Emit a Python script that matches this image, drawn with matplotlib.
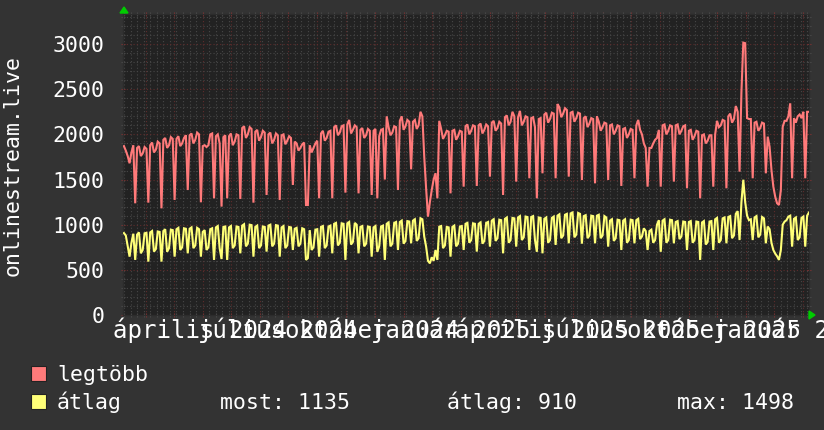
import numpy as np
import matplotlib
matplotlib.use("Agg")
import matplotlib.pyplot as plt
import matplotlib.dates as mdates
from matplotlib.ticker import MultipleLocator
from matplotlib.patches import Polygon, Rectangle

W, H = 824, 430

# ---- data (2-day consolidated points, starting 2024-01-07) ----
start_date = "2024-01-07"
end_date = "2026-01-07"

legtobb = [
    1870, 1820, 1760, 1680, 1800, 1880,
    1237, 1850, 1870, 1760, 1790, 1860, 1840,
    1244, 1880, 1910, 1800, 1830, 1920, 1900,
    1181, 1940, 1960, 1850, 1880, 1970, 1950,
    1274, 1950, 1980, 1870, 1900, 1960, 1990,
    1384, 1990, 2010, 1900, 1940, 2020, 2000,
    1248, 1870, 1880, 1860, 1880, 2000, 2010,
    1292, 1980, 2000, 1900, 1200, 1970, 1990,
    1292, 1980, 2010, 1880, 1920, 2000, 1990,
    1285, 2070, 2090, 1960, 2000, 2080, 2060,
    1244, 2030, 2050, 1930, 1970, 2040, 2020,
    1329, 2000, 2020, 1900, 1940, 2010, 1990,
    1274, 1990, 2000, 1890, 1930, 1980, 1960,
    1440, 1920, 1900, 1820, 1850, 1890, 1910,
    1218, 1218, 1880, 1800, 1850, 1900, 1930,
    1292, 2010, 2040, 1930, 1960, 2030, 2040,
    1292, 2080, 2100, 1990, 2020, 2090, 2100,
    1355, 2110, 2160, 2010, 2050, 2100, 2080,
    1347, 2050, 2070, 1960, 1990, 2060, 2040,
    1329, 2040, 2060, 1292, 1980, 2050, 2060,
    1500, 2200, 2080, 1990, 2020, 2090, 2080,
    1384, 2150, 2200, 2050, 2090, 2160, 2140,
    1613, 2140, 2160, 2060, 2100, 2250, 2200,
    1753, 1400, 1089, 1250, 1384, 1500, 1570,
    1292, 2150, 2060, 1950, 1990, 2040, 2030,
    1347, 2040, 2050, 1940, 1980, 2040, 2030,
    1421, 2090, 2110, 2000, 2040, 2100, 2090,
    1429, 2100, 2120, 2010, 2050, 2110, 2090,
    1532, 2130, 2150, 2040, 2070, 2140, 2120,
    1329, 2190, 2210, 2100, 2140, 2250, 2200,
    1477, 2190, 2260, 2100, 2140, 2200, 2190,
    1514, 2180, 2190, 2080, 1292, 2170, 2180,
    1569, 2220, 2240, 2130, 2170, 2240, 2230,
    1514, 2336, 2300, 2190, 2230, 2290, 2270,
    1532, 2240, 2250, 2140, 2180, 2240, 2230,
    1495, 2180, 2200, 2080, 2120, 2180, 2170,
    1458, 2200, 2140, 2040, 2080, 2130, 2120,
    1495, 2100, 2110, 2000, 2040, 2100, 2090,
    1429, 2060, 2070, 1960, 2000, 2060, 2050,
    1514, 2100, 2160, 2050, 2000, 1900, 1850,
    1421, 1850, 1850, 1900, 1940, 1960, 2050,
    1421, 2100, 2110, 2000, 2040, 2100, 2090,
    1477, 2100, 2110, 2000, 2040, 2090, 2100,
    1403, 2040, 2050, 1940, 1980, 2040, 2030,
    1292, 1990, 2000, 1900, 1930, 1990, 1990,
    1421, 2000, 2150, 2080, 2100, 2160, 2150,
    1403, 2200, 2230, 2130, 2170, 2314, 2250,
    1587, 2470, 3016, 3010, 2180, 2170, 2170,
    1514, 2130, 2140, 2040, 2070, 2130, 2120,
    1569, 1975, 1864, 1606, 1421, 1310, 1237,
    1218, 1384, 2085, 2150, 2150, 2200, 2344,
    1514, 2180, 2130, 2200, 2220, 2180, 2250,
    1514, 2250, 2250,
]

atlag = [
    907, 880, 760, 646, 800, 900,
    610, 890, 915, 683, 720, 905, 910,
    591, 915, 930, 702, 730, 925, 920,
    591, 930, 950, 700, 740, 945, 940,
    646, 950, 965, 720, 750, 960, 955,
    683, 955, 970, 740, 770, 965, 950,
    646, 920, 940, 720, 750, 950, 960,
    610, 970, 985, 740, 620, 975, 980,
    610, 970, 985, 740, 770, 980, 975,
    683, 990, 1005, 760, 790, 1000, 995,
    646, 975, 990, 740, 770, 980, 975,
    702, 990, 1000, 760, 790, 995, 990,
    646, 970, 985, 740, 770, 975, 970,
    720, 955, 965, 760, 790, 960, 950,
    610, 630, 940, 720, 750, 945, 950,
    646, 975, 985, 740, 770, 980, 990,
    683, 1010, 1020, 770, 800, 1015, 1010,
    610, 1015, 1030, 780, 810, 1020, 1000,
    683, 975, 985, 760, 790, 980, 975,
    646, 970, 985, 700, 760, 980, 990,
    610, 1010, 1025, 760, 790, 1020, 1030,
    720, 1030, 1045, 790, 820, 1040, 1035,
    794, 1045, 1060, 820, 850, 1071, 1060,
    868, 757, 600, 572, 640, 600, 720,
    610, 978, 985, 740, 770, 975, 970,
    646, 975, 990, 760, 790, 980, 985,
    720, 1010, 1020, 800, 830, 1015, 1010,
    702, 1010, 1025, 790, 820, 1020, 1030,
    757, 1045, 1060, 820, 850, 1055, 1050,
    683, 1065, 1080, 800, 830, 1075, 1070,
    757, 1080, 1095, 830, 860, 1090, 1085,
    720, 1085, 1095, 830, 700, 1080, 1075,
    683, 1065, 1080, 800, 830, 1075, 1090,
    776, 1100, 1115, 850, 880, 1110, 1120,
    794, 1125, 1135, 860, 890, 1130, 1120,
    790, 1095, 1105, 850, 880, 1100, 1095,
    794, 1100, 1110, 850, 880, 1095, 1080,
    757, 1045, 1060, 820, 850, 1055, 1050,
    720, 1045, 1060, 800, 830, 1055, 1050,
    794, 1050, 1065, 840, 870, 960, 930,
    720, 930, 945, 800, 830, 1000, 1050,
    700, 1045, 1060, 800, 830, 1055, 1050,
    794, 1030, 1040, 840, 870, 1035, 1030,
    720, 1030, 1040, 800, 830, 1035, 1030,
    610, 1025, 1040, 780, 810, 1035, 1040,
    720, 1060, 1075, 800, 830, 1070, 1080,
    794, 1085, 1095, 850, 880, 1120, 1150,
    830, 1250, 1498, 1250, 1100, 1050, 1060,
    830, 1080, 1095, 860, 890, 1085, 1070,
    794, 980, 950, 800, 720, 680, 650,
    610, 720, 1000, 1034, 1050, 1089, 1100,
    757, 1065, 1080, 830, 860, 1075, 1090,
    757, 1100, 1135,
]

yticks = [0, 500, 1000, 1500, 2000, 2500, 3000]
label_dates = ["2024-04-01", "2024-07-01", "2024-10-01", "2025-01-01",
               "2025-04-01", "2025-07-01", "2025-10-01", "2026-01-01"]
label_texts = ["április 2024", "július 2024", "október 2024", "január 2025",
               "április 2025", "július 2025", "október 2025", "január 2026"]
series_names = ["legtöbb", "átlag"]
series_colors = ["#ff7a7a", "#ffff78"]
stats_texts = ["most: 1135", "átlag: 910", "max: 1498"]
y_title = "onlinestream.live"

# ---- figure ----
MONO = "DejaVu Sans Mono"
fig = plt.figure(figsize=(W / 100, H / 100), dpi=100, facecolor="#333333")
ax = fig.add_axes([123 / W, (H - 315) / H, (809 - 123) / W, (315 - 14) / H],
                  facecolor="#222222")

t0 = np.datetime64(start_date + "T00:00")
n = len(legtobb)
x = t0 + (np.arange(n) * 48 + 24).astype("timedelta64[h]")

ax.plot(x, legtobb, color=series_colors[0], lw=1.5, zorder=3, solid_joinstyle="miter")
ax.plot(x, atlag, color=series_colors[1], lw=1.5, zorder=3, solid_joinstyle="miter")

ax.set_xlim(np.datetime64(start_date), np.datetime64(end_date))
ax.set_ylim(0, 3333)

ax.xaxis.set_major_locator(mdates.MonthLocator())
ax.xaxis.set_minor_locator(mdates.WeekdayLocator(byweekday=mdates.MO))
ax.yaxis.set_major_locator(MultipleLocator(500))
ax.yaxis.set_minor_locator(MultipleLocator(100))
ax.set_axisbelow(True)
ax.grid(which="minor", color="#474747", lw=0.8, ls=(0, (1, 2)))
ax.grid(which="major", color="#5f2c2c", lw=0.8, ls=(0, (1, 2)))

ax.tick_params(axis="x", which="both", labelbottom=False, top=True, bottom=True,
               direction="inout", length=3, width=0.8)
ax.tick_params(axis="x", which="major", color="#7a3333")
ax.tick_params(axis="x", which="minor", color="#4a4a4a")
ax.tick_params(axis="y", which="both", left=True, right=True, direction="inout",
               length=3, width=0.8)
ax.tick_params(axis="y", which="major", color="#7a3333")
ax.tick_params(axis="y", which="minor", color="#4a4a4a")
ax.set_yticks(yticks)
ax.set_yticklabels([str(v) for v in yticks], family=MONO, fontsize=15.5, color="white")
ax.tick_params(axis="y", which="major", pad=12)
for s in ax.spines.values():
    s.set_color("#2c2c2c")
    s.set_linewidth(1)

# x labels (overlapping like the original)
fig.canvas.draw()
for d, txt in zip(label_dates, label_texts):
    px = ax.transData.transform((mdates.date2num(np.datetime64(d)), 0))[0]
    fig.text((px - 90) / W, (H - 338) / H, txt, family=MONO, fontsize=17.3,
             color="white", ha="left", va="baseline")

# y title
fig.text(13 / W, (H - 166) / H, y_title, rotation=90, family=MONO, fontsize=15.5,
         color="white", ha="center", va="center")

# green arrows
fig.add_artist(Polygon([[124, H - 7], [120, H - 13], [128, H - 13]], closed=True,
                       transform=None, color="#00cc00"))
fig.add_artist(Polygon([[815, H - 315], [809, H - 311], [809, H - 319]], closed=True,
                       transform=None, color="#00cc00"))

# legend
rows = [381, 409]
for name, col, base in zip(series_names, series_colors, rows):
    fig.add_artist(Rectangle((31 / W, (H - base) / H), 15 / W, 15 / H,
                             transform=fig.transFigure, facecolor=col,
                             edgecolor="#222222", lw=0.8))
    fig.text(57 / W, (H - base) / H, name, family=MONO, fontsize=15.5,
             color="white", ha="left", va="baseline")
for txt, xp in zip(stats_texts, [220, 447, 677]):
    fig.text(xp / W, (H - rows[1]) / H, txt, family=MONO, fontsize=15.5,
             color="white", ha="left", va="baseline")

fig.savefig("out.png", dpi=100, facecolor=fig.get_facecolor())
